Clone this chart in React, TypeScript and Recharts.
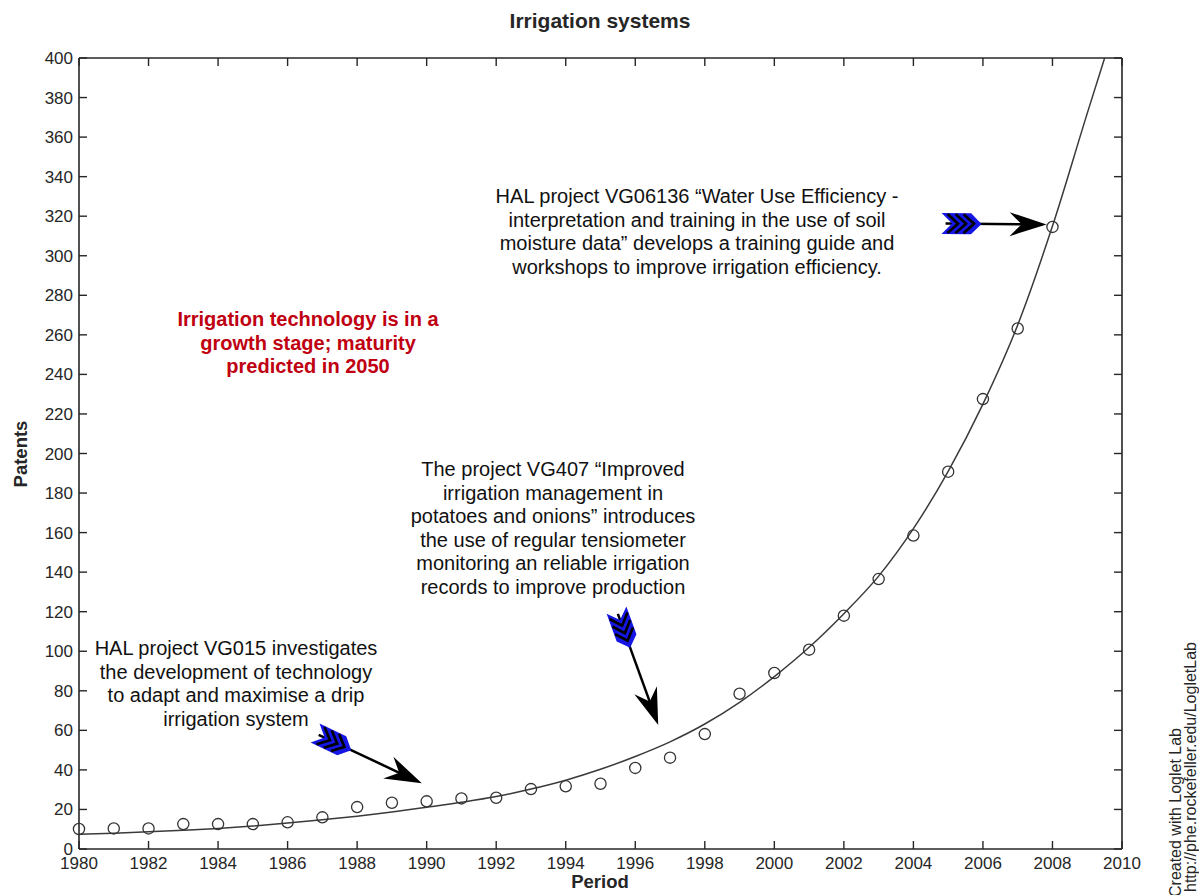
import React from "react";
import { ComposedChart, Line, XAxis, YAxis, ReferenceLine } from "recharts";

const years = [1980, 1981, 1982, 1983, 1984, 1985, 1986, 1987, 1988, 1989, 1990, 1991, 1992, 1993, 1994,
  1995, 1996, 1997, 1998, 1999, 2000, 2001, 2002, 2003, 2004, 2005, 2006, 2007, 2008];
const patents = [10.1, 10.4, 10.4, 12.6, 12.6, 12.6, 13.5, 16, 21.2, 23.4, 24.1, 25.6, 25.9, 30.3, 31.7,
  33, 41, 46.2, 58.1, 78.5, 89, 100.8, 118, 136.5, 158.5, 190.8, 227.5, 263.2, 314.6];

// fitted loglet curve
const fitYears = [1980, 1981, 1982, 1983, 1984, 1985, 1986, 1987, 1988, 1989, 1990, 1991, 1992, 1993, 1994,
  1995, 1996, 1997, 1998, 1999, 2000, 2001, 2002, 2003, 2004, 2005, 2006, 2007, 2008, 2009, 2009.5];
const fitValues = [7.5, 8.0, 8.7, 9.5, 10.4, 11.6, 13.1, 14.8, 16.6, 18.7, 21.1, 23.6, 26.5, 30.3, 34.8,
  40.3, 46.8, 54.2, 63.2, 74.2, 87.2, 102, 119, 138, 162, 191, 225, 265, 315, 372, 400];

const xTicks = [1980, 1982, 1984, 1986, 1988, 1990, 1992, 1994, 1996, 1998, 2000, 2002, 2004, 2006, 2008, 2010];
const yTicks = [0, 20, 40, 60, 80, 100, 120, 140, 160, 180, 200, 220, 240, 260, 280, 300, 320, 340, 360, 380, 400];

// annotation arrows: [tail year, tail value, tip year, tip value]
const arrows = [
  [1986.79, 58.6, 1989.86, 33.2],
  [1995.46, 120.8, 1996.66, 62.7],
  [2004.81, 316.3, 2007.83, 315.8],
];

const obsData = years.map((y, i) => ({ year: y, value: patents[i] }));
const fitData = fitYears.map((y, i) => ({ year: y, value: fitValues[i] }));

const FONT = '"Liberation Sans", Arial, sans-serif';
const INK = "#262626";
const TICK = 8;

function ArrowShape(props: any) {
  const { x1, y1, x2, y2 } = props;
  const dx = x2 - x1;
  const dy = y2 - y1;
  const len = Math.hypot(dx, dy);
  const ux = dx / len;
  const uy = dy / len;
  const nx = -uy;
  const ny = ux;
  const P = (a: number, b: number) => `${x1 + ux * a + nx * b},${y1 + uy * a + ny * b}`;
  const F = 40;
  const h = 10.5;
  const outer = [P(0, -h), P(F - h, -h), P(F, 0), P(F - h, h), P(0, h), P(h, 0)].join(" ");
  const L = 37;
  const W = 12;
  const notch = 25;
  const head = [P(len, 0), P(len - L, -W), P(len - notch, 0), P(len - L, W)].join(" ");
  return (
    <g>
      <line
        x1={x1 + ux * 4}
        y1={y1 + uy * 4}
        x2={x1 + ux * (len - notch + 2)}
        y2={y1 + uy * (len - notch + 2)}
        stroke="#000"
        strokeWidth={2.5}
      />
      <polygon points={outer} fill="#1616e4" />
      {[8, 16, 24].map((k) => (
        <polyline
          key={k}
          points={[P(k - 2, -h + 1), P(k - 2 + h, 0), P(k - 2, h - 1)].join(" ")}
          fill="none"
          stroke="#000"
          strokeWidth={2.6}
        />
      ))}
      <polygon points={head} fill="#000" />
    </g>
  );
}

const Circle = (props: any) => {
  const { cx, cy } = props;
  if (cx == null || cy == null) return null;
  return <circle cx={cx} cy={cy} r={5.6} fill="none" stroke="#333" strokeWidth={1.3} />;
};

// inward ticks (MATLAB style) drawn with the labels
const BottomTick = (p: any) => (
  <g>
    <line x1={p.x} y1={p.y} x2={p.x} y2={p.y - TICK} stroke={INK} strokeWidth={1.4} />
    <text x={p.x} y={p.y + 8} dy="0.71em" textAnchor="middle" fontSize={17} fontFamily={FONT} fill={INK}>
      {p.payload.value}
    </text>
  </g>
);
const LeftTick = (p: any) => (
  <g>
    <line x1={p.x} y1={p.y} x2={p.x + TICK} y2={p.y} stroke={INK} strokeWidth={1.4} />
    <text x={p.x - 6} y={p.y} dy="0.355em" textAnchor="end" fontSize={17} fontFamily={FONT} fill={INK}>
      {p.payload.value}
    </text>
  </g>
);

// top and right frame ticks, drawn from the reference line of each tick value
const TopTickShape = (p: any) => {
  const y = Math.min(p.y1, p.y2);
  return <line x1={p.x1} y1={y} x2={p.x1} y2={y + TICK} stroke={INK} strokeWidth={1.4} />;
};
const RightTickShape = (p: any) => {
  const x = Math.max(p.x1, p.x2);
  return <line x1={x} y1={p.y1} x2={x - TICK} y2={p.y1} stroke={INK} strokeWidth={1.4} />;
};

const block: React.CSSProperties = {
  position: "absolute",
  transform: "translateX(-50%)",
  textAlign: "center",
  whiteSpace: "nowrap",
  fontSize: 20,
  lineHeight: "23.6px",
  color: "#111",
};

export default function App() {
  const axisLine = { stroke: INK, strokeWidth: 1.6 };
  return (
    <div
      style={{
        position: "relative",
        width: 1199,
        height: 895,
        overflow: "hidden",
        background: "#fff",
        fontFamily: FONT,
      }}
    >
      <style>{"body{margin:0}"}</style>
      <ComposedChart
        width={1199}
        height={895}
        margin={{ top: 58, right: 77, bottom: 0, left: 0 }}
      >
        <XAxis
          dataKey="year"
          type="number"
          domain={[1980, 2010]}
          ticks={xTicks}
          interval={0}
          height={46}
          tickSize={0}
          tickMargin={0}
          tickLine={false}
          tick={BottomTick}
          axisLine={axisLine}
        />
        <YAxis
          dataKey="value"
          type="number"
          domain={[0, 400]}
          ticks={yTicks}
          interval={0}
          width={79}
          tickSize={0}
          tickMargin={0}
          tickLine={false}
          tick={LeftTick}
          axisLine={axisLine}
        />
        <ReferenceLine y={400} stroke={INK} strokeWidth={1.6} ifOverflow="visible" />
        <ReferenceLine x={2010} stroke={INK} strokeWidth={1.6} ifOverflow="visible" />
        {xTicks.map((t) => (
          <ReferenceLine key={"xt" + t} x={t} ifOverflow="visible" shape={TopTickShape} />
        ))}
        {yTicks.map((t) => (
          <ReferenceLine key={"yt" + t} y={t} ifOverflow="visible" shape={RightTickShape} />
        ))}
        <Line
          data={fitData}
          dataKey="value"
          type="monotone"
          stroke="#3a3a3a"
          strokeWidth={1.5}
          dot={false}
          activeDot={false}
          isAnimationActive={false}
        />
        <Line
          data={obsData}
          dataKey="value"
          stroke="none"
          dot={<Circle />}
          activeDot={false}
          isAnimationActive={false}
        />
        {arrows.map((a, i) => (
          <ReferenceLine
            key={i}
            segment={[
              { x: a[0], y: a[1] },
              { x: a[2], y: a[3] },
            ]}
            ifOverflow="visible"
            shape={(p: any) => <ArrowShape {...p} />}
          />
        ))}
      </ComposedChart>

      <div
        style={{
          position: "absolute",
          left: 600,
          top: 9,
          transform: "translateX(-50%)",
          fontWeight: "bold",
          fontSize: 21,
          color: INK,
          whiteSpace: "nowrap",
        }}
      >
        Irrigation systems
      </div>
      <div
        style={{
          position: "absolute",
          left: 600,
          top: 871,
          transform: "translateX(-50%)",
          fontWeight: "bold",
          fontSize: 18.5,
          color: INK,
        }}
      >
        Period
      </div>
      <div
        style={{
          position: "absolute",
          left: 21,
          top: 454,
          transform: "translate(-50%,-50%) rotate(-90deg)",
          fontWeight: "bold",
          fontSize: 18.5,
          color: INK,
        }}
      >
        Patents
      </div>

      <div style={{ ...block, left: 308, top: 308, color: "#c00010", fontWeight: "bold" }}>
        Irrigation technology is in a
        <br />
        growth stage; maturity
        <br />
        predicted in 2050
      </div>

      <div style={{ ...block, left: 697, top: 185 }}>
        HAL project VG06136 “Water Use Efficiency -
        <br />
        interpretation and training in the use of soil
        <br />
        moisture data” develops a training guide and
        <br />
        workshops to improve irrigation efficiency.
      </div>

      <div style={{ ...block, left: 553, top: 458 }}>
        The project VG407 “Improved
        <br />
        irrigation management in
        <br />
        potatoes and onions” introduces
        <br />
        the use of regular tensiometer
        <br />
        monitoring an reliable irrigation
        <br />
        records to improve production
      </div>

      <div style={{ ...block, left: 236, top: 637 }}>
        HAL project VG015 investigates
        <br />
        the development of technology
        <br />
        to adapt and maximise a drip
        <br />
        irrigation system
      </div>

      <svg
        width={1199}
        height={895}
        style={{ position: "absolute", left: 0, top: 0, pointerEvents: "none" }}
      >
        <text
          x={1181}
          y={728}
          transform="rotate(-90 1181 728)"
          textAnchor="end"
          fontSize={16}
          fontFamily={FONT}
          fill={INK}
        >
          Created with Loglet Lab
        </text>
        <text
          x={1196}
          y={642}
          transform="rotate(-90 1196 642)"
          textAnchor="end"
          fontSize={16}
          fontFamily={FONT}
          fill={INK}
        >
          http://phe.rockefeller.edu/LogletLab
        </text>
      </svg>
    </div>
  );
}
